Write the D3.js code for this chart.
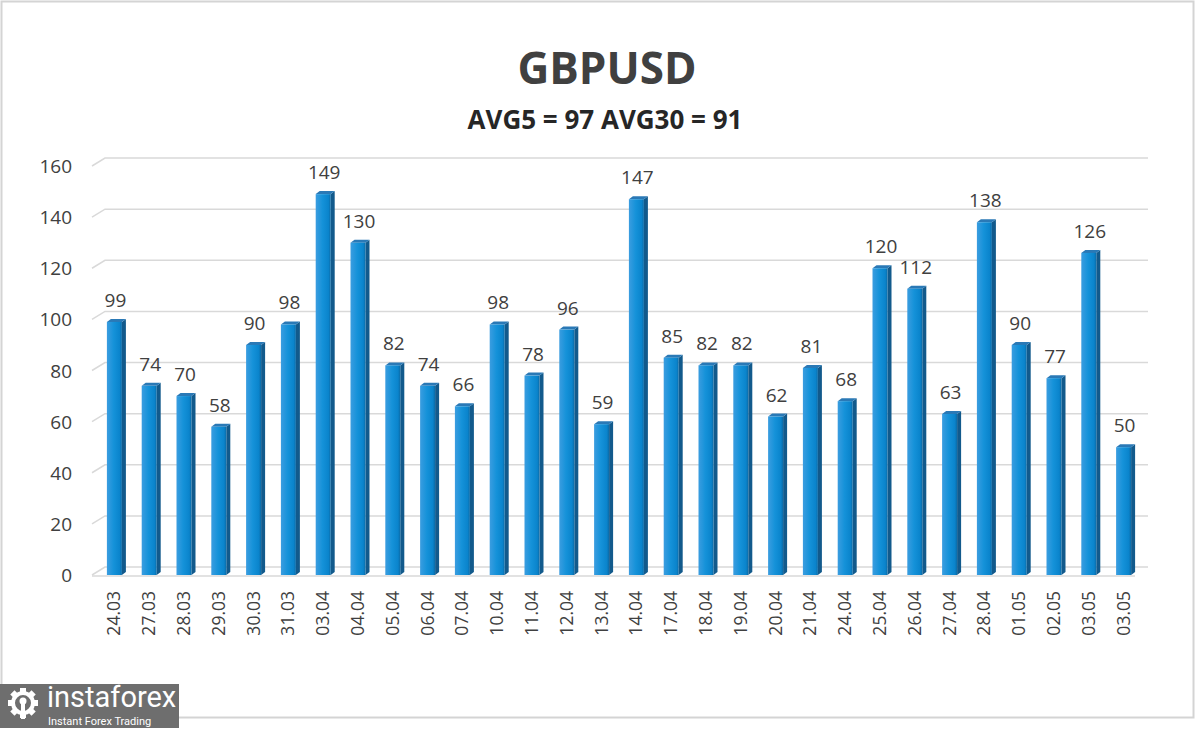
<!DOCTYPE html>
<html>
<head>
<meta charset="utf-8">
<script src="https://cdn.jsdelivr.net/npm/d3@7"></script>
<style>
  html, body { margin: 0; padding: 0; background: #fff; }
  svg { display: block; font-family: "Open Sans", "Noto Sans", sans-serif; }
</style>
</head>
<body>
<svg id="chart" width="1200" height="729"></svg>
<script>
const dates = ['24.03','27.03','28.03','29.03','30.03','31.03','03.04','04.04','05.04','06.04',
  '07.04','10.04','11.04','12.04','13.04','14.04','17.04','18.04','19.04','20.04',
  '21.04','24.04','25.04','26.04','27.04','28.04','01.05','02.05','03.05','03.05'];
const values = [99,74,70,58,90,98,149,130,82,74,66,98,78,96,59,147,85,82,82,62,81,68,120,112,63,138,90,77,126,50];
const yTicks = [0,20,40,60,80,100,120,140,160];
const title = 'GBPUSD';
const subtitle = 'AVG5 = 97 AVG30 = 91';

const width = 1200, height = 729;
const svg = d3.select('#chart');

// frame
svg.append('rect').attr('x', 0).attr('y', 0).attr('width', width).attr('height', height).attr('fill', '#fff');
svg.append('rect')
  .attr('x', 1.5).attr('y', 1.5).attr('width', 1192).attr('height', 716)
  .attr('fill', 'none').attr('stroke', '#d4d4d4').attr('stroke-width', 2);

const idx = d3.range(values.length);
const x = d3.scaleBand().domain(idx).range([97, 1141]).padding(0);
const barW = 15;
const y = d3.scaleLinear().domain([0, 160]).range([575, 166]);
const depthX = 4, depthY = -3;
const backX = 13, backY = -8;

const defs = svg.append('defs');
const grad = defs.append('linearGradient').attr('id', 'barGrad').attr('x1', '0%').attr('x2', '100%');
grad.append('stop').attr('offset', '0%').attr('stop-color', '#3b9de0');
grad.append('stop').attr('offset', '45%').attr('stop-color', '#1592d9');
grad.append('stop').attr('offset', '85%').attr('stop-color', '#0a84cc');
grad.append('stop').attr('offset', '100%').attr('stop-color', '#0b6aa6');

// gridlines (back wall + left diagonal)
const grid = svg.append('g');
yTicks.forEach(t => {
  const yf = y(t);
  grid.append('path')
    .attr('d', `M92,${yf} L${92 + backX},${yf + backY} L1148,${yf + backY}`)
    .attr('fill', 'none')
    .attr('stroke', '#d9d9d9').attr('stroke-width', 1.5);
});
// floor front edge
grid.append('line').attr('x1', 92).attr('x2', 1135).attr('y1', y(0) + 1).attr('y2', y(0) + 1)
  .attr('stroke', '#d9d9d9').attr('stroke-width', 1.5);

// y axis labels
svg.append('g').selectAll('text').data(yTicks).join('text')
  .attr('x', 72).attr('y', d => y(d) + 7)
  .attr('text-anchor', 'end')
  .attr('font-size', 19).attr('fill', '#404040')
  .text(d => d);

// bars
const bars = svg.append('g').selectAll('g').data(values).join('g')
  .attr('transform', (d, i) => `translate(${x(i) + (x.bandwidth() - barW) / 2},0)`);

bars.append('path') // side face
  .attr('d', d => `M${barW},${y(d)} L${barW + depthX},${y(d) + depthY} L${barW + depthX},${y(0) + depthY} L${barW},${y(0)} Z`)
  .attr('fill', '#125a8c');
bars.append('path') // top face
  .attr('d', d => `M0,${y(d)} L${depthX},${y(d) + depthY} L${barW + depthX},${y(d) + depthY} L${barW},${y(d)} Z`)
  .attr('fill', '#2a79b6');
bars.append('rect') // front face
  .attr('x', 0).attr('y', d => y(d))
  .attr('width', barW).attr('height', d => y(0) - y(d))
  .attr('fill', 'url(#barGrad)');

// value labels
svg.append('g').selectAll('text').data(values).join('text')
  .attr('x', (d, i) => x(i) + x.bandwidth() / 2 + 1)
  .attr('y', d => y(d) - 15)
  .attr('text-anchor', 'middle')
  .attr('font-size', 19).attr('fill', '#404040')
  .text(d => d);

// x labels (rotated)
svg.append('g').selectAll('text').data(dates).join('text')
  .attr('transform', (d, i) => `translate(${x(i) + x.bandwidth() / 2 + 6},591) rotate(-90)`)
  .attr('text-anchor', 'end')
  .attr('font-size', 17.5).attr('fill', '#404040')
  .text(d => d);

// titles
svg.append('text').attr('x', 607).attr('y', 84).attr('text-anchor', 'middle')
  .attr('font-size', 44).attr('font-weight', 'bold').attr('fill', '#404040').text(title);
svg.append('text').attr('x', 605).attr('y', 129).attr('text-anchor', 'middle')
  .attr('font-size', 26).attr('font-weight', 'bold').attr('fill', '#262626').text(subtitle);

// watermark logo
const logo = svg.append('g');
logo.append('rect').attr('x', 0).attr('y', 684).attr('width', 179).attr('height', 44).attr('fill', '#6e6e6e');
const gear = logo.append('g').attr('transform', 'translate(23,703)');
d3.range(8).forEach(k => {
  gear.append('rect').attr('x', -3).attr('y', -15).attr('width', 6).attr('height', 7)
    .attr('fill', '#fff').attr('transform', `rotate(${k * 45})`);
});
gear.append('circle').attr('r', 10).attr('fill', 'none').attr('stroke', '#fff').attr('stroke-width', 4);
gear.append('circle').attr('cy', -2).attr('r', 3.5).attr('fill', '#fff');
gear.append('rect').attr('x', -2).attr('y', 0).attr('width', 4).attr('height', 16).attr('fill', '#fff');
logo.append('text').attr('x', 47).attr('y', 707).attr('font-size', 29).attr('fill', '#fff')
  .attr('font-family', 'Roboto, sans-serif').text('instaforex');
logo.append('text').attr('x', 48).attr('y', 725).attr('font-size', 11).attr('fill', '#fff')
  .attr('font-family', 'Roboto, sans-serif').text('Instant Forex Trading');
</script>
</body>
</html>
